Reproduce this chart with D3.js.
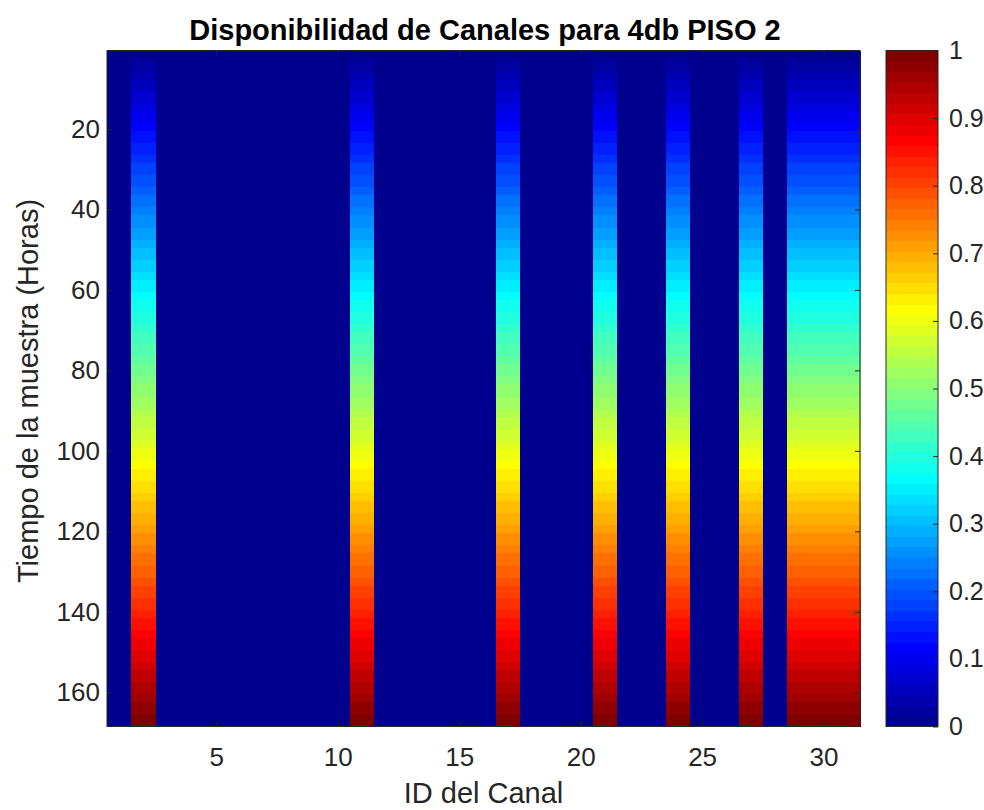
<html>
<head>
  <meta charset="utf-8">
  <title>Disponibilidad de Canales</title>
  <script src="https://d3js.org/d3.v7.min.js"></script>
  <style>
    body { margin: 0; background: #fff; }
    svg text { font-family: "Liberation Sans", Arial, Helvetica, sans-serif; fill: #262626; }
    .axis path, .axis line { stroke: #262626; }
  </style>
</head>
<body>
<svg id="chart" width="984" height="810"></svg>
<script>

// ---- data ----
const channels = d3.range(1, 32);          // ID del Canal 1..31
const hours = d3.range(1, 169);            // Tiempo de la muestra 1..168
// channels that show the ramp, all others stay at 0
const activeChannels = [2, 11, 17, 21, 24, 27, 29, 30, 31];
// availability per hour for the active channels (same ramp on every one)
const availability = [
  0.006, 0.012, 0.018, 0.024, 0.030, 0.036, 0.042, 0.048, 0.054, 0.060,
  0.065, 0.071, 0.077, 0.083, 0.089, 0.095, 0.101, 0.107, 0.113, 0.119,
  0.125, 0.131, 0.137, 0.143, 0.149, 0.155, 0.161, 0.167, 0.173, 0.179,
  0.185, 0.190, 0.196, 0.202, 0.208, 0.214, 0.220, 0.226, 0.232, 0.238,
  0.244, 0.250, 0.256, 0.262, 0.268, 0.274, 0.280, 0.286, 0.292, 0.298,
  0.304, 0.310, 0.315, 0.321, 0.327, 0.333, 0.339, 0.345, 0.351, 0.357,
  0.363, 0.369, 0.375, 0.381, 0.387, 0.393, 0.399, 0.405, 0.411, 0.417,
  0.423, 0.429, 0.435, 0.440, 0.446, 0.452, 0.458, 0.464, 0.470, 0.476,
  0.482, 0.488, 0.494, 0.500, 0.506, 0.512, 0.518, 0.524, 0.530, 0.536,
  0.542, 0.548, 0.554, 0.560, 0.565, 0.571, 0.577, 0.583, 0.589, 0.595,
  0.601, 0.607, 0.613, 0.619, 0.625, 0.631, 0.637, 0.643, 0.649, 0.655,
  0.661, 0.667, 0.673, 0.679, 0.685, 0.690, 0.696, 0.702, 0.708, 0.714,
  0.720, 0.726, 0.732, 0.738, 0.744, 0.750, 0.756, 0.762, 0.768, 0.774,
  0.780, 0.786, 0.792, 0.798, 0.804, 0.810, 0.815, 0.821, 0.827, 0.833,
  0.839, 0.845, 0.851, 0.857, 0.863, 0.869, 0.875, 0.881, 0.887, 0.893,
  0.899, 0.905, 0.911, 0.917, 0.923, 0.929, 0.935, 0.940, 0.946, 0.952,
  0.958, 0.964, 0.970, 0.976, 0.982, 0.988, 0.994, 1.000
];
const xTicks = [5, 10, 15, 20, 25, 30];
const yTicks = [20, 40, 60, 80, 100, 120, 140, 160];
const cbTicks = [0, 0.1, 0.2, 0.3, 0.4, 0.5, 0.6, 0.7, 0.8, 0.9, 1];

const titleText = "Disponibilidad de Canales para 4db PISO 2";
const xLabel = "ID del Canal";
const yLabel = "Tiempo de la muestra (Horas)";

// ---- MATLAB jet(64) colormap ----
const jet = n => {
  const q = n / 4;
  const u = k => k < 1 || k > 3 * q - 1 ? 0 : (k <= q ? k / q : (k < 2 * q ? 1 : (3 * q - k) / q));
  return d3.range(1, n + 1).map(i => d3.rgb(255 * u(i - 24 * n / 64), 255 * u(i - 8 * n / 64), 255 * u(i + 8 * n / 64)).formatHex());
};
const jetColors = jet(64);
const color = d3.scaleQuantize().domain([0, 1]).range(jetColors);

// build the cell table
let cells = [];
hours.forEach((h, i) => {
  channels.forEach(c => {
    cells.push({ c: c, h: h, v: activeChannels.includes(c) ? availability[i] : 0 });
  });
});

// ---- layout ----
const svg = d3.select("#chart");
const plot = { left: 107, right: 860, top: 50.5, bottom: 726.5 };
const x = d3.scaleLinear().domain([0.5, 31.5]).range([plot.left, plot.right]);
const y = d3.scaleLinear().domain([0.5, 168.5]).range([plot.top, plot.bottom]);

// heatmap cells
svg.append("g").attr("shape-rendering", "crispEdges")
  .selectAll("rect").data(cells).join("rect")
  .attr("x", d => x(d.c - 0.5))
  .attr("y", d => y(d.h - 0.5))
  .attr("width", d => x(d.c + 0.5) - x(d.c - 0.5) + 0.5)
  .attr("height", d => y(d.h + 0.5) - y(d.h - 0.5) + 0.5)
  .attr("fill", d => color(d.v));

// axes with inward ticks (MATLAB style)
const tickLen = 5;
const fontTick = "26px";

const gx = svg.append("g").attr("class", "axis").attr("transform", `translate(0,${plot.bottom})`)
  .call(d3.axisBottom(x).tickValues(xTicks).tickSizeInner(-tickLen).tickSizeOuter(0).tickPadding(21));
const gxTop = svg.append("g").attr("class", "axis").attr("transform", `translate(0,${plot.top})`)
  .call(d3.axisTop(x).tickValues(xTicks).tickSizeInner(-tickLen).tickSizeOuter(0).tickFormat(""));
const gy = svg.append("g").attr("class", "axis").attr("transform", `translate(${plot.left},0)`)
  .call(d3.axisLeft(y).tickValues(yTicks).tickSizeInner(-tickLen).tickSizeOuter(0).tickPadding(7));
const gyRight = svg.append("g").attr("class", "axis").attr("transform", `translate(${plot.right},0)`)
  .call(d3.axisRight(y).tickValues(yTicks).tickSizeInner(-tickLen).tickSizeOuter(0).tickFormat(""));

[gx, gxTop, gy, gyRight].forEach(g => {
  g.select(".domain").remove();
  g.selectAll("text").style("font-size", fontTick).attr("fill", "#262626");
});

// plot box
svg.append("rect")
  .attr("x", plot.left).attr("y", plot.top)
  .attr("width", plot.right - plot.left).attr("height", plot.bottom - plot.top)
  .attr("fill", "none").attr("stroke", "#262626").attr("stroke-width", 1);

// ---- colorbar ----
const cb = { left: 886, right: 938 };
const cbY = d3.scaleLinear().domain([0, 1]).range([plot.bottom, plot.top]);
svg.append("g").attr("shape-rendering", "crispEdges")
  .selectAll("rect").data(jetColors).join("rect")
  .attr("x", cb.left)
  .attr("width", cb.right - cb.left)
  .attr("y", (d, i) => cbY((i + 1) / 64))
  .attr("height", (d, i) => cbY(i / 64) - cbY((i + 1) / 64) + 0.5)
  .attr("fill", d => d);

const gcb = svg.append("g").attr("class", "axis").attr("transform", `translate(${cb.right},0)`)
  .call(d3.axisRight(cbY).tickValues(cbTicks).tickSizeInner(-tickLen).tickSizeOuter(0).tickPadding(11)
          .tickFormat(d => d3.format("~g")(d)));
gcb.select(".domain").remove();
gcb.selectAll("text").style("font-size", "25px").attr("fill", "#262626");

svg.append("rect")
  .attr("x", cb.left).attr("y", plot.top)
  .attr("width", cb.right - cb.left).attr("height", plot.bottom - plot.top)
  .attr("fill", "none").attr("stroke", "#262626").attr("stroke-width", 1);

// ---- titles ----
svg.append("text")
  .attr("x", 485).attr("y", 40)
  .attr("text-anchor", "middle")
  .style("font-size", "29px").style("font-weight", "bold")
  .style("fill", "#000")
  .text(titleText);

svg.append("text")
  .attr("x", (plot.left + plot.right) / 2).attr("y", 803)
  .attr("text-anchor", "middle")
  .style("font-size", "29px")
  .text(xLabel);

svg.append("text")
  .attr("transform", `translate(38,391) rotate(-90)`)
  .attr("text-anchor", "middle")
  .style("font-size", "29px")
  .text(yLabel);

</script>
</body>
</html>
